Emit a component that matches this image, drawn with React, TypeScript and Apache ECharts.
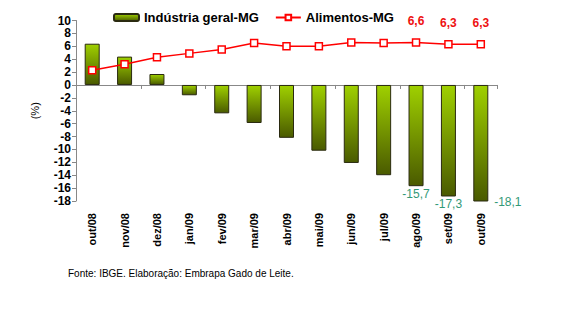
import React, { useEffect, useRef } from "react";
import * as echarts from "echarts";

const categories = ["out/08", "nov/08", "dez/08", "jan/09", "fev/09", "mar/09", "abr/09", "mai/09", "jun/09", "jul/09", "ago/09", "set/09", "out/09"];
const industria = [6.4, 4.4, 1.7, -1.6, -4.4, -5.9, -8.2, -10.2, -12.1, -14.0, -15.7, -17.3, -18.1];
const alimentos = [2.3, 3.2, 4.3, 4.9, 5.5, 6.5, 6.0, 6.0, 6.6, 6.5, 6.6, 6.3, 6.3];
const labeledFrom = 10;
const fmt = (v: number) => v.toFixed(1).replace(".", ",");

export default function App() {
  const ref = useRef<HTMLDivElement>(null);
  useEffect(() => {
    document.body.style.margin = "0";
    const chart = echarts.init(ref.current!, null, { renderer: "svg" });
    const barGrad = new echarts.graphic.LinearGradient(0, 0, 0, 1, [
      { offset: 0, color: "#9fd000" },
      { offset: 1, color: "#4a5a00" },
    ]);
    const font = "Liberation Sans, Arial, sans-serif";
    chart.setOption({
      animation: false,
      textStyle: { fontFamily: font },
      legend: {
        left: 113,
        top: 11,
        padding: 0,
        itemWidth: 25,
        itemHeight: 7,
        itemGap: 16,
        textStyle: { fontFamily: font, fontWeight: "bold", fontSize: 13, color: "#000" },
        data: ["Indústria geral-MG", "Alimentos-MG"],
      },
      grid: { left: 76, right: 73, top: 20.5, bottom: 126, containLabel: false },
      xAxis: [
        {
          type: "category",
          data: categories,
          axisLine: { onZero: true, lineStyle: { color: "#888", width: 1 } },
          axisTick: { show: true, length: 4, lineStyle: { color: "#888" } },
          axisLabel: { show: false },
        },
        {
          type: "category",
          data: categories,
          position: "bottom",
          axisLine: { show: false, onZero: false },
          axisTick: { show: false },
          axisLabel: {
            rotate: 90,
            margin: 12,
            fontFamily: font,
            fontWeight: "bold",
            fontSize: 11,
            color: "#000",
          },
        },
      ],
      yAxis: {
        type: "value",
        min: -18,
        max: 10,
        interval: 2,
        name: "(%)",
        nameLocation: "middle",
        nameGap: 36,
        nameRotate: 90,
        nameTextStyle: { fontFamily: font, fontSize: 11, color: "#000" },
        splitLine: { show: false },
        axisLine: { show: true, lineStyle: { color: "#888" } },
        axisTick: { show: true, length: 4, lineStyle: { color: "#888" } },
        axisLabel: { fontFamily: font, fontWeight: "bold", fontSize: 12, color: "#000", margin: 5 },
      },
      series: [
        {
          name: "Indústria geral-MG",
          type: "bar",
          xAxisIndex: 0,
          barWidth: 15,
          itemStyle: { color: barGrad, borderColor: "#2a2a10", borderWidth: 1 },
          data: industria.map((v, i) => ({
            value: v,
            label: {
              show: i >= labeledFrom,
              position: "bottom",
              offset: i === industria.length - 1 ? [27, -8] : [0, 0],
              distance: 2,
              formatter: () => fmt(v),
              color: "#339977",
              fontFamily: font,
              fontSize: 12,
            },
          })),
        },
        {
          name: "Alimentos-MG",
          type: "line",
          xAxisIndex: 0,
          symbol: "rect",
          symbolSize: 7,
          lineStyle: { color: "#ff0000", width: 1.5 },
          itemStyle: { color: "#fff", borderColor: "#ff0000", borderWidth: 1.5 },
          data: alimentos.map((v, i) => ({
            value: v,
            label: {
              show: i >= labeledFrom,
              position: "top",
              distance: 11,
              formatter: () => fmt(v),
              color: "#ee1111",
              fontWeight: "bold",
              fontFamily: font,
              fontSize: 12,
            },
          })),
        },
      ],
      graphic: [
        {
          type: "text",
          left: 68,
          top: 268,
          style: {
            text: "Fonte: IBGE. Elaboração: Embrapa Gado de Leite.",
            fontFamily: font,
            fontSize: 10,
            fill: "#000",
          },
        },
      ],
    });
    return () => chart.dispose();
  }, []);
  return <div ref={ref} style={{ width: 570, height: 327 }} />;
}
